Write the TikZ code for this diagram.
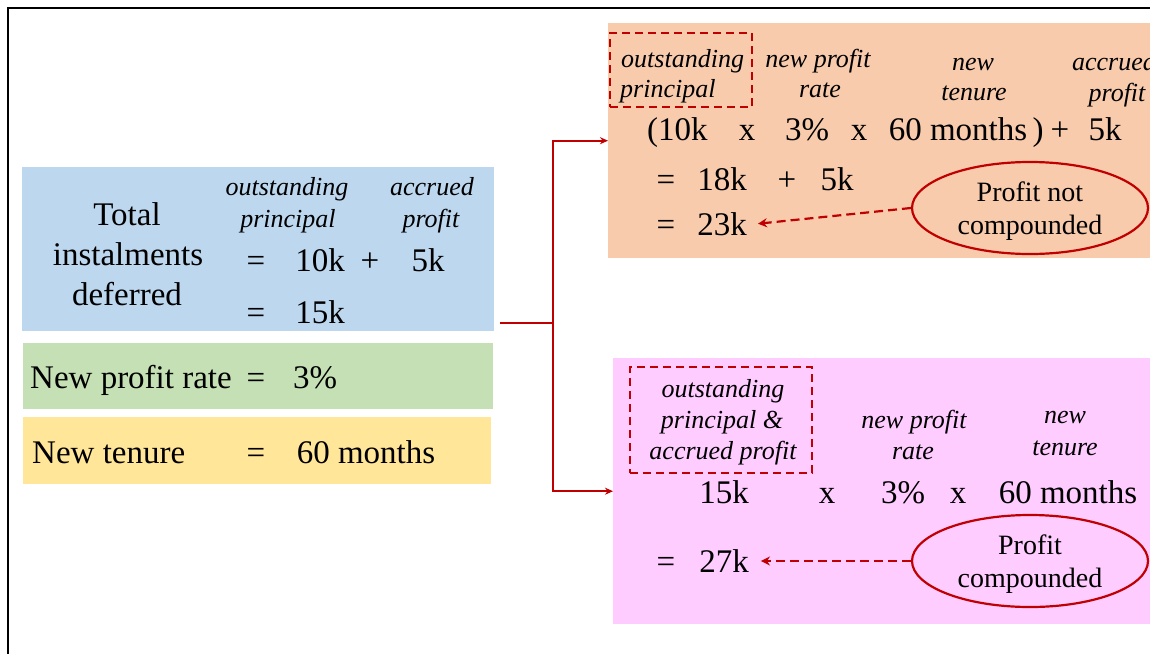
\documentclass[tikz,border=0pt]{standalone}
\usepackage{fontspec}
\setmainfont{Liberation Serif}
\usetikzlibrary{shapes.geometric,arrows.meta}
\definecolor{bluebg}{HTML}{BDD7EE}
\definecolor{greenbg}{HTML}{C5E0B4}
\definecolor{yellowbg}{HTML}{FFE699}
\definecolor{orangebg}{HTML}{F8CBAD}
\definecolor{pinkbg}{HTML}{FFCCFF}
\definecolor{darkred}{HTML}{C00000}
\begin{document}
\begin{tikzpicture}[x=1pt,y=-1pt,
  panel/.style={rectangle, draw=none, inner sep=0pt, anchor=north west},
  big/.style={inner sep=0pt, anchor=base, font=\fontsize{33}{40}\selectfont},
  lab/.style={inner sep=0pt, anchor=base, font=\fontsize{26}{32}\selectfont\itshape},
  eltext/.style={inner sep=0pt, align=center, font=\fontsize{28}{33}\selectfont},
  dashbox/.style={rectangle, draw=darkred, line width=2.3pt, dash pattern=on 8pt off 5pt, inner sep=0pt},
  ellip/.style={ellipse, draw=darkred, line width=2.2pt, inner sep=0pt},
  conn/.style={draw=darkred, line width=2.3pt, -{Stealth[length=8pt,width=7pt]}},
  dasharrow/.style={draw=darkred, line width=2.2pt, dash pattern=on 9pt off 5pt, -{Stealth[length=9pt,width=9pt]}}]
\useasboundingbox (0,0) rectangle (1150,653);
\clip (0,0) rectangle (1150,653);
\draw[line width=1.8pt] (8,700) -- (8,8) -- (1200,8);

% left panels
\node[panel, fill=bluebg, minimum width=472pt, minimum height=164pt] (blue) at (22,167) {};
\node[panel, fill=greenbg, minimum width=470pt, minimum height=66pt] (green) at (23,343) {};
\node[panel, fill=yellowbg, minimum width=468pt, minimum height=67pt] (yellow) at (23,417) {};
% right panels
\node[panel, fill=orangebg, minimum width=600pt, minimum height=235pt] (orange) at (608,23) {};
\node[panel, fill=pinkbg, minimum width=600pt, minimum height=266pt] (pink) at (613,358) {};

% blue panel text
\node[big] (tTotal) at (127,225) {Total};
\node[big] (tInst) at (128,265) {instalments};
\node[big] (tDef) at (127,305) {deferred};
\node[lab] (bOut) at (287,195) {outstanding};
\node[lab] (bPrin) at (288,227) {principal};
\node[lab] (bAcc) at (432,195) {accrued};
\node[lab] (bProf) at (431,227) {profit};
\node[big] (bEq1) at (256,271) {=};
\node[big] (b10k) at (320,271) {10k};
\node[big] (bPlus) at (370,271) {+};
\node[big] (b5k) at (428,271) {5k};
\node[big] (bEq2) at (256,323) {=};
\node[big] (b15k) at (320,323) {15k};

% green and yellow text
\node[big, anchor=base west] (gLab) at (30,388) {New profit rate};
\node[big] (gEq) at (256,388) {=};
\node[big] (gVal) at (315,388) {3\%};
\node[big, anchor=base west] (yLab) at (32,463) {New tenure};
\node[big] (yEq) at (256,463) {=};
\node[big] (yVal) at (366,463) {60 months};

% orange panel
\node[dashbox, minimum width=142pt, minimum height=74pt] (od) at (681,70) {};
\node[lab, anchor=base west] (oOut) at (621,67) {outstanding};
\node[lab, anchor=base west] (oPrin) at (620,97) {principal};
\node[lab] (oNp) at (818,67) {new profit};
\node[lab] (oRate) at (820,97) {rate};
\node[lab] (oNew) at (973,70) {new};
\node[lab] (oTen) at (974,100) {tenure};
\node[lab] (oAcc) at (1114,70) {accrued};
\node[lab] (oProf) at (1117,101) {profit};
\node[big, anchor=base west] (o10k) at (647,140) {(10k};
\node[big] (ox1) at (747,140) {x};
\node[big] (o3) at (807,140) {3\%};
\node[big] (ox2) at (859,140) {x};
\node[big] (o60) at (958,140) {60 months};
\node[big] (oPar) at (1038,140) {)};
\node[big] (oPlus) at (1060,140) {+};
\node[big] (o5k) at (1105,140) {5k};
\node[big] (oEq1) at (666,190) {=};
\node[big] (o18k) at (722,190) {18k};
\node[big] (oPlus2) at (787,190) {+};
\node[big] (o5kb) at (837,190) {5k};
\node[big] (oEq2) at (666,235) {=};
\node[big] (o23k) at (722,235) {23k};
\node[ellip, minimum width=236pt, minimum height=92pt] (e1) at (1030,208) {};
\node[eltext] (e1t) at (1030,211) {Profit not\\compounded};

% pink panel
\node[dashbox, minimum width=182pt, minimum height=106pt] (pd) at (721,420) {};
\node[lab] (pOut) at (723,397) {outstanding};
\node[lab] (pPrin) at (722,428) {principal \&};
\node[lab] (pAcc) at (723,459) {accrued profit};
\node[lab] (pNp) at (914,428) {new profit};
\node[lab] (pRate) at (913,459) {rate};
\node[lab] (pNew) at (1065,423) {new};
\node[lab] (pTen) at (1065,455) {tenure};
\node[big] (p15k) at (724,503) {15k};
\node[big] (px1) at (827,503) {x};
\node[big] (p3) at (903,503) {3\%};
\node[big] (px2) at (958,503) {x};
\node[big] (p60) at (1068,503) {60 months};
\node[big] (pEq) at (666,572) {=};
\node[big] (p27k) at (724,572) {27k};
\node[ellip, minimum width=236pt, minimum height=92pt] (e2) at (1030,561) {};
\node[eltext] (e2t) at (1030,564) {Profit\\compounded};

% connectors
\coordinate (start) at (500,323);
\coordinate (branch) at (553,323);
\draw[conn] (start) -- (branch) |- (orange.west);
\draw[conn] (branch) |- (pink.west);
\draw[dasharrow] (e1.west) -- ([xshift=11pt]o23k.east);
\draw[dasharrow] (e2.west) -- ([xshift=12pt]p27k.east |- e2.west);
\end{tikzpicture}
\end{document}
